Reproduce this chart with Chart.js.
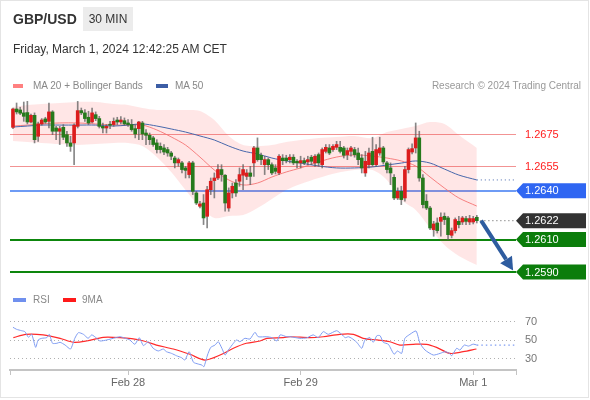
<!DOCTYPE html>
<html>
<head>
<meta charset="utf-8">
<script src="https://cdn.jsdelivr.net/npm/chart.js@4.4.1/dist/chart.umd.min.js"></script>
<style>
  html, body { margin: 0; padding: 0; background: #fff; }
  #card { position: relative; width: 590px; height: 400px; font-family: 'Liberation Sans', Arial, sans-serif; overflow: hidden; }
  #frame { position: absolute; left: 0; top: 0; width: 589px; height: 398px; box-sizing: border-box; border: 1px solid #e4e4e4; }
  #chart { position: absolute; left: 0; top: 0; }
  .t { position: absolute; white-space: nowrap; line-height: 1; }
  #sym { left: 13px; top: 12px; font-size: 14px; font-weight: bold; color: #333; }
  #tf { left: 83px; top: 7px; width: 50px; height: 24px; background: #ececec; font-size: 12px; color: #333; line-height: 24px; text-align: center; }
  #date { left: 13px; top: 43px; font-size: 12px; color: #333; }
  .lg { font-size: 10px; color: #888; }
  .sw { position: absolute; height: 4px; }
</style>
</head>
<body>
<div id="card">
  <div id="frame"></div>
  <canvas id="chart" width="590" height="400"></canvas>
  <div class="t" id="sym">GBP/USD</div>
  <div class="t" id="tf">30 MIN</div>
  <div class="t" id="date">Friday, March 1, 2024 12:42:25 AM CET</div>

  <div class="sw" style="left:13px; top:84px; width:10px; background:#ff8080;"></div>
  <div class="t lg" style="left:33px; top:81px;">MA 20 + Bollinger Bands</div>
  <div class="sw" style="left:156px; top:84px; width:12px; background:#3c5da5;"></div>
  <div class="t lg" style="left:175px; top:81px;">MA 50</div>
  <div class="t lg" style="right:9px; top:81px; color:#999;">Research © 2024 Trading Central</div>

  <div class="sw" style="left:13px; top:298px; width:13px; background:#7090ee;"></div>
  <div class="t lg" style="left:33px; top:295px;">RSI</div>
  <div class="sw" style="left:63px; top:298px; width:13px; background:#ff1a1a;"></div>
  <div class="t lg" style="left:82px; top:295px;">9MA</div>
</div>
<script>
// x positions are candle numbers (30 min bars)
const dayTicks = [32, 80, 128];
const dayLabels = ['Feb 28', 'Feb 29', 'Mar 1'];

const candleOpen = [1.26791,1.26904,1.26898,1.26880,1.26882,1.26824,1.26865,1.26736,1.26812,1.26843,
  1.26828,1.26886,1.26787,1.26767,1.26791,1.26746,1.26695,1.26695,1.26797,1.26894,
  1.26880,1.26853,1.26824,1.26869,1.26845,1.26797,1.26787,1.26808,1.26808,1.26836,
  1.26824,1.26832,1.26818,1.26808,1.26783,1.26783,1.26818,1.26756,1.26742,1.26726,
  1.26695,1.26674,1.26664,1.26654,1.26633,1.26602,1.26572,1.26572,1.26541,1.26500,
  1.26572,1.26387,1.26305,1.26325,1.26243,1.26407,1.26463,1.26479,1.26531,1.26496,
  1.26294,1.26387,1.26448,1.26459,1.26496,1.26489,1.26510,1.26572,1.26664,1.26619,
  1.26561,1.26592,1.26561,1.26541,1.26510,1.26602,1.26602,1.26592,1.26607,1.26582,
  1.26572,1.26586,1.26578,1.26607,1.26572,1.26623,1.26561,1.26643,1.26664,1.26654,
  1.26668,1.26668,1.26664,1.26623,1.26643,1.26654,1.26633,1.26602,1.26510,1.26561,
  1.26643,1.26561,1.26633,1.26664,1.26572,1.26541,1.26483,1.26356,1.26397,1.26356,
  1.26531,1.26639,1.26664,1.26726,1.26479,1.26336,1.26294,1.26161,1.26202,1.26212,
  1.26243,1.26233,1.26126,1.26155,1.26212,1.26208,1.26229,1.26208,1.26208,1.26237];
const candleHigh = [1.26910,1.26941,1.26915,1.26947,1.26951,1.26873,1.26880,1.26824,1.26845,1.26853,
  1.26941,1.26894,1.26797,1.26797,1.26808,1.26767,1.26736,1.26812,1.26951,1.26910,
  1.26900,1.26890,1.26910,1.26886,1.26859,1.26818,1.26808,1.26828,1.26849,1.26853,
  1.26857,1.26849,1.26839,1.26839,1.26808,1.26828,1.26828,1.26777,1.26756,1.26736,
  1.26715,1.26695,1.26685,1.26668,1.26643,1.26613,1.26602,1.26582,1.26551,1.26582,
  1.26582,1.26397,1.26336,1.26377,1.26428,1.26479,1.26510,1.26561,1.26561,1.26500,
  1.26418,1.26448,1.26469,1.26541,1.26561,1.26531,1.26551,1.26674,1.26726,1.26633,
  1.26613,1.26602,1.26572,1.26561,1.26623,1.26623,1.26619,1.26623,1.26623,1.26592,
  1.26613,1.26602,1.26613,1.26619,1.26623,1.26633,1.26664,1.26685,1.26685,1.26685,
  1.26705,1.26705,1.26674,1.26664,1.26674,1.26668,1.26664,1.26623,1.26643,1.26664,
  1.26730,1.26685,1.26730,1.26674,1.26582,1.26572,1.26500,1.26418,1.26428,1.26551,
  1.26664,1.26689,1.26818,1.26767,1.26500,1.26377,1.26305,1.26212,1.26233,1.26264,
  1.26264,1.26243,1.26171,1.26233,1.26243,1.26243,1.26243,1.26249,1.26243,1.26249];
const candleLow = [1.26783,1.26873,1.26869,1.26828,1.26812,1.26818,1.26695,1.26705,1.26804,1.26816,
  1.26787,1.26746,1.26715,1.26685,1.26715,1.26674,1.26643,1.26561,1.26787,1.26869,
  1.26828,1.26808,1.26818,1.26832,1.26787,1.26756,1.26756,1.26783,1.26797,1.26808,
  1.26812,1.26804,1.26797,1.26767,1.26726,1.26715,1.26715,1.26685,1.26685,1.26674,
  1.26633,1.26633,1.26623,1.26613,1.26592,1.26541,1.26551,1.26510,1.26479,1.26479,
  1.26377,1.26315,1.26294,1.26192,1.26171,1.26377,1.26356,1.26469,1.26459,1.26274,
  1.26274,1.26356,1.26366,1.26428,1.26407,1.26469,1.26438,1.26489,1.26582,1.26561,
  1.26500,1.26531,1.26500,1.26504,1.26500,1.26561,1.26572,1.26572,1.26561,1.26541,
  1.26541,1.26561,1.26561,1.26561,1.26551,1.26551,1.26541,1.26633,1.26623,1.26643,
  1.26654,1.26633,1.26602,1.26592,1.26613,1.26607,1.26561,1.26510,1.26489,1.26541,
  1.26551,1.26551,1.26619,1.26565,1.26510,1.26438,1.26346,1.26346,1.26315,1.26336,
  1.26510,1.26627,1.26633,1.26459,1.26294,1.26284,1.26161,1.26120,1.26140,1.26120,
  1.26192,1.26099,1.26110,1.26140,1.26171,1.26192,1.26192,1.26192,1.26196,1.26202];
const candleClose = [1.26904,1.26886,1.26878,1.26859,1.26824,1.26865,1.26715,1.26812,1.26836,1.26824,
  1.26886,1.26767,1.26767,1.26783,1.26730,1.26695,1.26674,1.26804,1.26894,1.26880,
  1.26845,1.26818,1.26880,1.26845,1.26797,1.26787,1.26797,1.26804,1.26828,1.26824,
  1.26836,1.26812,1.26808,1.26777,1.26750,1.26824,1.26750,1.26742,1.26715,1.26685,
  1.26654,1.26654,1.26639,1.26633,1.26613,1.26572,1.26592,1.26531,1.26526,1.26572,
  1.26397,1.26325,1.26319,1.26233,1.26407,1.26459,1.26479,1.26531,1.26500,1.26325,
  1.26387,1.26428,1.26387,1.26500,1.26531,1.26510,1.26489,1.26664,1.26592,1.26592,
  1.26592,1.26561,1.26510,1.26520,1.26613,1.26586,1.26586,1.26607,1.26572,1.26572,
  1.26586,1.26572,1.26592,1.26582,1.26613,1.26572,1.26654,1.26668,1.26633,1.26674,
  1.26685,1.26643,1.26619,1.26648,1.26664,1.26623,1.26592,1.26541,1.26582,1.26633,
  1.26561,1.26654,1.26664,1.26578,1.26531,1.26510,1.26356,1.26397,1.26346,1.26531,
  1.26654,1.26660,1.26726,1.26479,1.26315,1.26294,1.26171,1.26196,1.26155,1.26237,
  1.26223,1.26130,1.26155,1.26223,1.26192,1.26233,1.26212,1.26229,1.26229,1.26216];

// Bollinger bands, MA 20 and MA 50, read at these candle numbers
const bandIdx = [0,4,8,13,18,23,28,32,36,40,44,48,52,56,60,64,68,72,76,80,85,90,95,100,104,108,112,116,120,124,129];
const bbUpper = [1.26916,1.26929,1.26935,1.26941,1.26947,1.26947,1.26935,1.26929,1.26910,1.26898,1.26898,1.26898,1.26892,1.26836,1.26738,1.26682,1.26676,1.26682,1.26701,1.26713,1.26725,1.26732,1.26738,1.26725,1.26762,1.26781,1.26799,1.26824,1.26812,1.26744,1.26664];
const bbLower = [1.26707,1.26701,1.26695,1.26688,1.26682,1.26688,1.26695,1.26695,1.26676,1.26608,1.26516,1.26405,1.26300,1.26233,1.26245,1.26251,1.26294,1.26350,1.26405,1.26442,1.26479,1.26510,1.26528,1.26528,1.26467,1.26343,1.26282,1.26171,1.26066,1.25999,1.25943];
const ma20 = [1.26799,1.26805,1.26812,1.26818,1.26818,1.26812,1.26805,1.26805,1.26805,1.26775,1.26732,1.26682,1.26608,1.26528,1.26467,1.26436,1.26448,1.26485,1.26516,1.26541,1.26578,1.26608,1.26621,1.26614,1.26602,1.26584,1.26553,1.26485,1.26417,1.26356,1.26306];
const ma50 = [1.26793,1.26799,1.26805,1.26805,1.26805,1.26805,1.26799,1.26805,1.26812,1.26799,1.26781,1.26762,1.26738,1.26713,1.26676,1.26645,1.26627,1.26602,1.26584,1.26571,1.26553,1.26541,1.26541,1.26547,1.26559,1.26571,1.26584,1.26571,1.26534,1.26497,1.26467];

// RSI and its 9 period MA
const rsiIdx = [0,1,2.4,3.3,4.3,5.2,6.3,7,8,9.4,10.1,11,12.2,13.1,14.5,16,17.2,18.2,19.6,20.9,
  21.9,23.3,24.2,26.1,27.9,29.8,31.2,32.5,33.9,35.1,36.3,37.6,39,40.4,41.8,42.7,44.1,45.5,46.9,47.8,
  49,50.2,51.5,52.5,53.1,54.1,55,56.2,57.1,58.1,59,59.9,61.3,62.2,63.1,64.5,65.9,67.3,68.2,70.6,
  72,73.4,74.3,76.1,77.1,79.8,81.7,83.5,84.9,86.3,87.7,90,91.4,92.4,93.3,94.2,95.6,97,97.9,99.3,
  100.2,101.2,102.1,103,104.4,106,106.9,108.1,109,110.4,112.1,113.2,114.6,116.9,118.8,120.2,121.4,122,123.4,124.3,
  125.5,126.7,128,129];
const rsiVal = [63.2,61,59.5,58.5,52.4,55.6,41.5,49.5,51.3,52,55.6,45.9,45.9,47,44,39.7,51.3,57.4,55.6,51.3,
  55,51.3,48.4,49.5,51.3,53,51.3,49.5,44.8,52,43.3,47.6,40.5,37.6,39.7,36.8,35,32.4,30.3,27.8,
  36.8,25.4,23.5,22.4,20.6,33.2,41.5,44,47.6,40.5,33.2,38.6,45.9,49.5,47.6,51.3,50.5,57.8,53,53,
  52,48.4,55,53,53,51.3,51.8,55,52,58.5,55.6,59.5,55.6,52,53,51.3,47,40.5,49.5,52,
  47,54.1,54.1,47,44.8,34,37.6,35,51.3,55.6,59.2,45.9,38.6,33.2,35,36.8,35,32.4,40.5,38.6,
  44,42.9,45,44];
const rsiMaIdx = [0.1,3.6,8.4,13.1,16.8,20.5,25.1,29.8,35.3,39.9,44.6,49.2,53.4,57.6,61.3,64.9,68.7,70.6,75.2,77.1,82.6,86.3,90.9,94.7,97.4,101.2,104.8,107.6,111.3,115,117.8,121.5,125.2,128.9];
const rsiMaVal = [52,55.6,55,51.3,47,48.4,52.4,52,49.5,44,39.7,34,27.8,33.2,40.5,45.9,48.4,51.3,52,53,52,53,55.6,55.6,51.3,49.5,47.6,44,44.8,44.8,41.5,35,36.8,39.7];

// key levels
const resistLevels = [1.2675, 1.2655];
const pivotLevel = 1.2640;
const supportLevels = [1.2610, 1.2590];
const rsiLevels = [70, 50, 30];
const arrowTarget = 1.2591;

const FONT = "'Liberation Sans', Arial, sans-serif";
Chart.defaults.font.family = FONT;

const n = candleClose.length;
const lastIdx = n - 1;
const lastPrice = candleClose[lastIdx];
const xMin = -0.83, xMax = 139.9;

const pts = (xs, ys) => xs.map((v, i) => ({ x: v, y: ys[i] }));
const idx = candleClose.map((c, i) => i);

const bodyColors = idx.map(i => candleClose[i] > candleOpen[i] ? '#dc1d1d' : '#267a1c');

const levelsPlugin = {
  id: 'levels',
  beforeDatasetsDraw(chart) {
    const { ctx, chartArea: a, scales } = chart;
    const y = scales.y, rsi = scales.yRsi;
    ctx.save();
    ctx.lineWidth = 1;
    ctx.strokeStyle = '#b0b0b0';
    ctx.setLineDash([1, 3]);
    rsiLevels.forEach(v => {
      const py = Math.round(rsi.getPixelForValue(v)) + 0.5;
      ctx.beginPath(); ctx.moveTo(a.left, py); ctx.lineTo(a.right, py); ctx.stroke();
    });
    ctx.setLineDash([]);
    const hline = (v, color, w) => {
      const py = Math.round(y.getPixelForValue(v)) + (w === 1 ? 0.5 : 0);
      ctx.strokeStyle = color; ctx.lineWidth = w;
      ctx.beginPath(); ctx.moveTo(a.left, py); ctx.lineTo(a.right, py); ctx.stroke();
    };
    resistLevels.forEach(v => hline(v, '#f29393', 1));
    hline(pivotLevel, '#6e9bf5', 2);
    supportLevels.forEach(v => hline(v, '#0d860d', 2));
    ctx.restore();
  },
  afterDatasetsDraw(chart) {
    const { ctx, chartArea: a, scales } = chart;
    const x = scales.x, y = scales.y, rsi = scales.yRsi;
    ctx.save();
    ctx.font = '11px ' + FONT;
    ctx.textBaseline = 'middle';
    const lx = a.right + 9;

    const tag = (v, color) => {
      const py = y.getPixelForValue(v);
      ctx.fillStyle = color;
      ctx.beginPath();
      ctx.moveTo(a.right, py);
      ctx.lineTo(a.right + 7, py - 7.5);
      ctx.lineTo(586, py - 7.5);
      ctx.lineTo(586, py + 7.5);
      ctx.lineTo(a.right + 7, py + 7.5);
      ctx.closePath();
      ctx.fill();
      ctx.fillStyle = '#fff';
      ctx.fillText(v.toFixed(4), lx, py + 0.5);
    };
    resistLevels.forEach(v => {
      ctx.fillStyle = '#ff2020';
      ctx.fillText(v.toFixed(4), lx, y.getPixelForValue(v) + 0.5);
    });
    tag(pivotLevel, '#2f66f2');
    tag(lastPrice, '#333333');
    supportLevels.forEach(v => tag(v, '#0b7d0b'));

    ctx.fillStyle = '#777';
    rsiLevels.forEach(v => ctx.fillText(String(v), lx, rsi.getPixelForValue(v) + 0.5));

    // forecast arrow from last price toward the support target
    const x1 = x.getPixelForValue(lastIdx + 1.2), y1 = y.getPixelForValue(lastPrice);
    const x2 = x.getPixelForValue(lastIdx + 10.1), y2 = y.getPixelForValue(arrowTarget);
    const ang = Math.atan2(y2 - y1, x2 - x1);
    const head = 13, half = 7;
    const bx = x2 - head * Math.cos(ang), by = y2 - head * Math.sin(ang);
    ctx.strokeStyle = '#2e5c9f'; ctx.fillStyle = '#2e5c9f';
    ctx.lineWidth = 4;
    ctx.beginPath(); ctx.moveTo(x1, y1); ctx.lineTo(bx, by); ctx.stroke();
    ctx.beginPath();
    ctx.moveTo(x2, y2);
    ctx.lineTo(bx + half * Math.sin(ang), by - half * Math.cos(ang));
    ctx.lineTo(bx - half * Math.sin(ang), by + half * Math.cos(ang));
    ctx.closePath(); ctx.fill();
    ctx.restore();
  }
};

const lineDs = (data, color, width, axis, order, extra) => Object.assign({
  type: 'line', data, borderColor: color, borderWidth: width, pointRadius: 0,
  fill: false, tension: 0.3, yAxisID: axis, order
}, extra || {});

new Chart(document.getElementById('chart'), {
  type: 'bar',
  data: {
    datasets: [
      {
        data: idx.map(i => ({ x: i, y: [candleOpen[i], candleClose[i]] })),
        backgroundColor: bodyColors, borderWidth: 0,
        barThickness: 3, minBarLength: 1, grouped: false, yAxisID: 'y', order: 1
      },
      {
        data: idx.map(i => ({ x: i, y: [candleLow[i], candleHigh[i]] })),
        backgroundColor: 'rgba(95,95,95,0.75)', borderWidth: 0,
        barThickness: 1, grouped: false, yAxisID: 'y', order: 2
      },
      lineDs(pts(bandIdx, ma50), '#4767ab', 1, 'y', 3),
      lineDs(pts(bandIdx, ma20), 'rgba(245,110,110,0.85)', 1, 'y', 4),
      lineDs(pts(bandIdx, bbUpper), 'rgba(0,0,0,0)', 0, 'y', 9),
      lineDs(pts(bandIdx, bbLower), 'rgba(0,0,0,0)', 0, 'y', 9,
        { fill: '-1', backgroundColor: 'rgba(255,60,60,0.13)' }),
      lineDs([{ x: lastIdx, y: ma50[ma50.length - 1] }, { x: xMax, y: ma50[ma50.length - 1] }],
        '#4767ab', 1, 'y', 3, { borderDash: [1, 3], tension: 0 }),
      lineDs([{ x: lastIdx + 1, y: lastPrice }, { x: xMax, y: lastPrice }],
        '#555', 1, 'y', 3, { borderDash: [1, 3], tension: 0 }),
      lineDs(pts(rsiMaIdx, rsiMaVal), '#ff2a2a', 1.2, 'yRsi', 3),
      lineDs(pts(rsiIdx, rsiVal), '#7f9cf2', 1, 'yRsi', 2, { tension: 0.2 }),
      lineDs([{ x: lastIdx, y: rsiVal[rsiVal.length - 1] }, { x: xMax, y: rsiVal[rsiVal.length - 1] }],
        '#7f9cf2', 1.2, 'yRsi', 2, { borderDash: [1.5, 3], tension: 0 })
    ]
  },
  options: {
    responsive: false,
    animation: false,
    devicePixelRatio: 1,
    layout: { padding: { left: 10, right: 74, top: 100, bottom: 0 } },
    plugins: { legend: { display: false }, tooltip: { enabled: false } },
    scales: {
      x: {
        type: 'linear', min: xMin, max: xMax, offset: false,
        grid: { display: true, offset: false, drawOnChartArea: false, drawTicks: true, tickLength: 5, color: '#c4c4c4' },
        border: { display: true, color: '#c4c4c4', width: 2 },
        // day labels plus the two end caps of the axis
        afterBuildTicks: s => { s.ticks = [xMin, ...dayTicks, xMax].map(v => ({ value: v })); },
        afterFit: s => { s.height = 30; },
        ticks: {
          autoSkip: false, maxRotation: 0, padding: 1, color: '#666',
          font: { size: 11 },
          callback: (v) => { const k = dayTicks.indexOf(v); return k < 0 ? '' : dayLabels[k]; }
        }
      },
      y: { display: false, min: 1.252964, max: 1.269594, beginAtZero: false },
      yRsi: { axis: 'y', display: false, min: 17.03, max: 308.9, beginAtZero: false }
    }
  },
  plugins: [levelsPlugin]
});
</script>
</body>
</html>
